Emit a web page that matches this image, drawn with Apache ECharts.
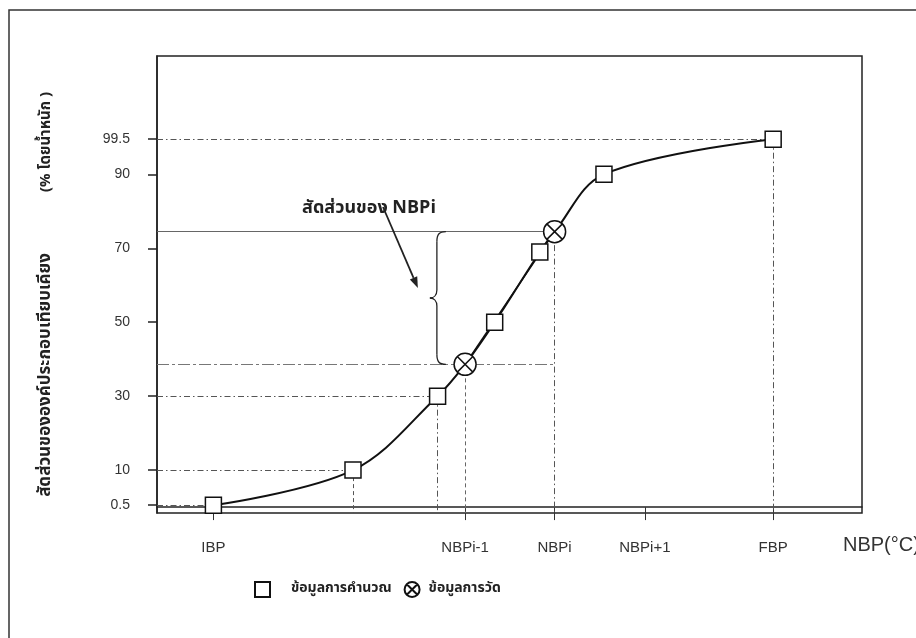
<!DOCTYPE html>
<html><head><meta charset="utf-8">
<script src="https://cdn.jsdelivr.net/npm/echarts@6/dist/echarts.min.js"></script>
<style>html,body{margin:0;padding:0;background:#fff}#c{width:916px;height:638px}</style>
</head><body><div id="c"></div>
<script>
// ---- data ----
const xTickNames = ['IBP', 'NBPi-1', 'NBPi', 'NBPi+1', 'FBP'];
const xTickValues = [8, 43.7, 56.4, 69.2, 87.4];
const yTickValues = [0.5, 10, 30, 50, 70, 90, 99.5];
const calcX = [8, 27.8, 39.8, 47.9, 54.3, 63.4, 87.4];
const calcY = [0.5, 10, 30, 50, 69, 90, 99.5];
const measX = [43.7, 56.4];
const measY = [38.6, 74.5];
const seriesNames = ['ข้อมูลการคำนวณ', 'ข้อมูลการวัด'];
const yTitle1 = 'สัดส่วนขององค์ประกอบเทียบเคียง';
const yTitle2 = '(% โดยน้ำหนัก )';
const xTitle = 'NBP(°C)';
const noteText = 'สัดส่วนของ NBPi';
const braceX = 39.7;

// ---- chart ----
const X_MIN = 0, X_MAX = 100, Y_MIN = -1.6, Y_MAX = 122;
const FONT = "'Liberation Sans', Arial, sans-serif";
const NARROW = "'Liberation Sans Narrow', 'Liberation Sans', Arial, sans-serif";
const THAI = "'Noto Sans Thai', 'Noto Sans Thai UI', Loma, Garuda, 'Tlwg Typo', 'DejaVu Sans', 'Noto Sans', sans-serif";
const circleX = 'path://M20,10A10,10,0,1,1,0,10A10,10,0,1,1,20,10Z M2.93,2.93L17.07,17.07 M17.07,2.93L2.93,17.07';

const calcPts = calcX.map((x, i) => [x, calcY[i]]);
const measPts = measX.map((x, i) => [x, measY[i]]);
const curvePts = calcPts.concat(measPts).sort((a, b) => a[0] - b[0]);

const DASHDOT = [6, 3, 1.5, 3], DASH = [4, 3], LONG = [12, 3, 3, 3];
function hLine(pt, toX, type, color, width) {
  return [{coord: [X_MIN, pt[1]], lineStyle: {type: type, color: color, width: width || 1}},
          {coord: [toX, pt[1]]}];
}
function vLine(pt, type, color) {
  return [{coord: [pt[0], pt[1]], lineStyle: {type: type, color: color, width: 1}},
          {coord: [pt[0], Y_MIN]}];
}
const guides = [
  hLine(calcPts[0], calcPts[0][0], DASHDOT, '#555'),
  hLine(calcPts[1], calcPts[1][0], DASHDOT, '#555'),
  hLine(calcPts[2], calcPts[2][0], DASHDOT, '#555'),
  hLine(calcPts[6], calcPts[6][0], DASHDOT, '#555'),
  hLine(measPts[0], measPts[1][0], LONG, '#777'),
  hLine(measPts[1], measPts[1][0], 'solid', '#666', 1),
  vLine(calcPts[1], DASH, '#555'),
  vLine(calcPts[2], DASHDOT, '#555'),
  vLine(measPts[0], DASH, '#666'),
  vLine(measPts[1], DASHDOT, '#555'),
  vLine(calcPts[6], DASHDOT, '#555')
];

const chart = echarts.init(document.getElementById('c'), null, {renderer: 'canvas'});
chart.setOption({
  animation: false,
  backgroundColor: '#fff',
  grid: {left: 157, right: 54, top: 56, bottom: 125, show: true, borderColor: '#222', borderWidth: 1.5,
         backgroundColor: 'transparent', containLabel: false, outerBoundsMode: 'none'},
  xAxis: {
    type: 'value', min: X_MIN, max: X_MAX,
    splitLine: {show: false},
    axisLine: {show: true, lineStyle: {color: '#222', width: 1.5}},
    axisTick: {show: true, length: 13, customValues: xTickValues, lineStyle: {color: '#333', width: 1}},
    axisLabel: {customValues: xTickValues, margin: 27, fontSize: 15, color: '#333', fontFamily: NARROW,
      formatter: v => { const i = xTickValues.indexOf(v); return i >= 0 ? xTickNames[i] : ''; }}
  },
  yAxis: {
    type: 'value', min: Y_MIN, max: Y_MAX,
    splitLine: {show: false},
    axisLine: {show: true, lineStyle: {color: '#222', width: 1.5}},
    axisTick: {show: true, length: 9, customValues: yTickValues, lineStyle: {color: '#222', width: 1.5}},
    axisLabel: {customValues: yTickValues, margin: 27, fontSize: 14, color: '#333', fontFamily: FONT}
  },
  legend: {
    data: [{name: seriesNames[0]}, {name: seriesNames[1]}],
    left: 249, top: 576, itemWidth: 15, itemHeight: 15, itemGap: 12,
    formatter: n => (n === seriesNames[0] ? '{a|' : '{b|') + n + '}',
    textStyle: {fontFamily: THAI, fontWeight: 'bold', fontSize: 14, color: '#222',
      rich: {a: {padding: [0, 0, 0, 16], fontFamily: THAI, fontWeight: 'bold', fontSize: 14, color: '#222'},
             b: {padding: [0, 0, 0, 4], fontFamily: THAI, fontWeight: 'bold', fontSize: 14, color: '#222'}}}
  },
  series: [
    {name: 'curve', type: 'line', data: curvePts, smooth: 0.35, symbol: 'none',
     lineStyle: {color: '#111', width: 2}, z: 3, silent: true},
    {name: 'chord', type: 'line', data: measPts, symbol: 'none',
     lineStyle: {color: '#111', width: 1.5}, z: 3, silent: true,
     markLine: {symbol: ['none', 'none'], silent: true, label: {show: false}, z: 2, data: guides}},
    {name: seriesNames[0], type: 'scatter', data: calcPts, symbol: 'rect', symbolSize: 16,
     itemStyle: {color: '#fff', borderColor: '#111', borderWidth: 1.5, opacity: 1}, z: 5},
    {name: seriesNames[1], type: 'scatter', data: measPts, symbol: circleX, symbolSize: 22,
     itemStyle: {color: '#fff', borderColor: '#111', borderWidth: 1.5, opacity: 1}, z: 5}
  ]
});

// ---- annotations ----
const pTop = chart.convertToPixel({gridIndex: 0}, [braceX, measY[1]]);
const pBot = chart.convertToPixel({gridIndex: 0}, [braceX, measY[0]]);
const bx = pTop[0], t = pTop[1], b = pBot[1], m = (t + b) / 2;
const BS = {fill: 'none', stroke: '#222', lineWidth: 1.3};
function bz(x1, y1, c1x, c1y, c2x, c2y, x2, y2) {
  return {type: 'bezierCurve', shape: {x1: x1, y1: y1, cpx1: c1x, cpy1: c1y, cpx2: c2x, cpy2: c2y, x2: x2, y2: y2}, style: BS, z: 10, silent: true};
}
function ln(x1, y1, x2, y2, st) {
  return {type: 'line', shape: {x1: x1, y1: y1, x2: x2, y2: y2}, style: st || BS, z: 10, silent: true};
}
const brace = [
  bz(bx + 9, t, bx + 2, t, bx, t + 3, bx, t + 10),
  ln(bx, t + 10, bx, m - 8),
  bz(bx, m - 8, bx, m - 3, bx - 3, m, bx - 7, m),
  bz(bx - 7, m, bx - 3, m, bx, m + 3, bx, m + 8),
  ln(bx, m + 8, bx, b - 10),
  bz(bx, b - 10, bx, b - 3, bx + 2, b, bx + 9, b)
];
const a0 = [383, 207], a1 = [bx - 19, m - 10];
const dx = a1[0] - a0[0], dy = a1[1] - a0[1], L = Math.hypot(dx, dy), ux = dx / L, uy = dy / L;
const hb = [a1[0] - 11 * ux, a1[1] - 11 * uy];
const head = [a1, [hb[0] - 4 * uy, hb[1] + 4 * ux], [hb[0] + 4 * uy, hb[1] - 4 * ux]];

chart.setOption({
  graphic: [
    {type: 'rect', shape: {x: 9, y: 10, width: 1000, height: 1000}, style: {fill: 'none', stroke: '#333', lineWidth: 1.5}, silent: true, z: 0},
    {type: 'text', x: 47, y: 375, rotation: Math.PI / 2, style: {text: yTitle1, fontFamily: THAI, fontWeight: 'bold', fontSize: 17, fill: '#222', align: 'center', verticalAlign: 'middle'}},
    {type: 'text', x: 47, y: 142, rotation: Math.PI / 2, style: {text: yTitle2, fontFamily: THAI, fontWeight: 'bold', fontSize: 15, fill: '#222', align: 'center', verticalAlign: 'middle'}},
    {type: 'text', x: 843, y: 545, style: {text: xTitle, fontFamily: FONT, fontSize: 20, fill: '#333', align: 'left', verticalAlign: 'middle'}},
    {type: 'text', x: 369, y: 209, style: {text: noteText, fontFamily: THAI, fontWeight: 'bold', fontSize: 18, fill: '#222', align: 'center', verticalAlign: 'middle'}}
  ].concat(brace, [
    ln(a0[0], a0[1], hb[0], hb[1], {stroke: '#222', lineWidth: 1.8}),
    {type: 'polygon', shape: {points: head}, style: {fill: '#222'}, z: 10, silent: true}
  ])
});
</script></body></html>
